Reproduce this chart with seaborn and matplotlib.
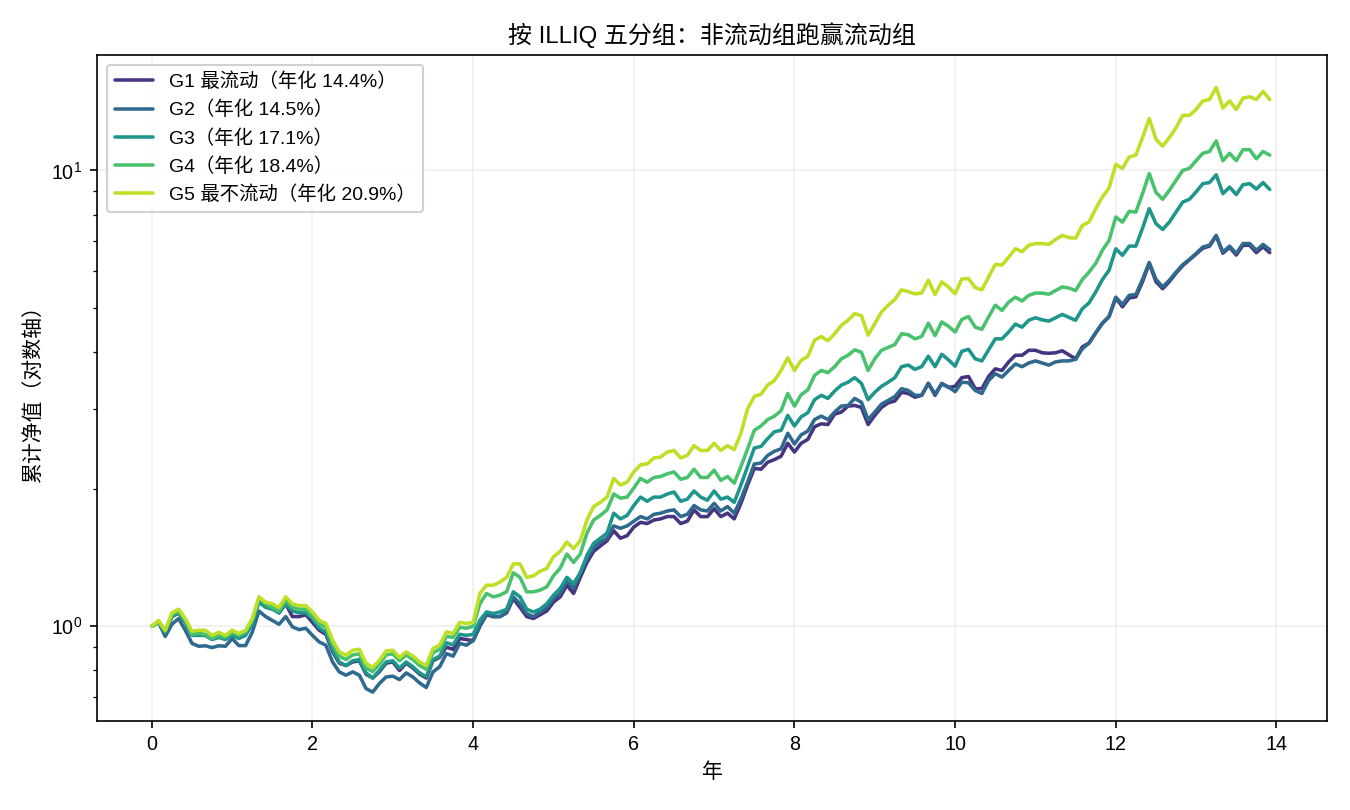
import numpy as np
import pandas as pd
import matplotlib
matplotlib.use("Agg")
import matplotlib.pyplot as plt
import seaborn as sns

# monthly cumulative NAV per ILLIQ quintile
g1 = [1.00, 1.02, 0.97, 1.05, 1.07, 1.02, 0.96, 0.96, 0.955, 0.94, 0.95, 0.94,
      0.965, 0.95, 0.96, 1.02, 1.14, 1.11, 1.10, 1.07, 1.12, 1.05, 1.05, 1.06,
      1.02, 0.98, 0.96, 0.88, 0.83, 0.82, 0.835, 0.84, 0.785, 0.77, 0.795, 0.83,
      0.835, 0.80, 0.83, 0.81, 0.785, 0.77, 0.84, 0.855, 0.90, 0.89, 0.94, 0.935,
      0.93, 1.00, 1.06, 1.05, 1.05, 1.07, 1.15, 1.10, 1.05, 1.04, 1.06, 1.08,
      1.13, 1.16, 1.23, 1.18, 1.28, 1.38, 1.46, 1.50, 1.54, 1.62, 1.56, 1.58,
      1.65, 1.69, 1.68, 1.71, 1.72, 1.74, 1.74, 1.68, 1.70, 1.80, 1.74, 1.74,
      1.81, 1.74, 1.77, 1.72, 1.86, 2.04, 2.22, 2.21, 2.29, 2.32, 2.36, 2.52,
      2.41, 2.52, 2.57, 2.74, 2.78, 2.77, 2.92, 2.95, 3.04, 3.05, 3.02, 2.77,
      2.90, 3.02, 3.09, 3.12, 3.26, 3.24, 3.18, 3.21, 3.41, 3.21, 3.41, 3.34,
      3.36, 3.51, 3.53, 3.32, 3.32, 3.53, 3.67, 3.64, 3.80, 3.93, 3.93, 4.03,
      4.03, 3.98, 3.97, 3.98, 4.02, 3.94, 3.86, 4.10, 4.18, 4.40, 4.62, 4.78,
      5.25, 5.02, 5.25, 5.28, 5.70, 6.25, 5.70, 5.50, 5.70, 5.95, 6.18, 6.36,
      6.55, 6.75, 6.82, 7.18, 6.58, 6.78, 6.52, 6.85, 6.85, 6.60, 6.80, 6.60]

g2 = [1.00, 1.02, 0.95, 1.01, 1.04, 0.98, 0.917, 0.904, 0.906, 0.898, 0.906, 0.904,
      0.94, 0.907, 0.907, 0.97, 1.08, 1.05, 1.03, 1.01, 1.05, 0.997, 0.983, 0.99,
      0.955, 0.924, 0.909, 0.835, 0.794, 0.781, 0.794, 0.781, 0.730, 0.717, 0.749, 0.774,
      0.777, 0.764, 0.79, 0.774, 0.751, 0.734, 0.794, 0.815, 0.871, 0.86, 0.917, 0.909,
      0.93, 1.00, 1.066, 1.05, 1.05, 1.075, 1.16, 1.12, 1.066, 1.05, 1.075, 1.10,
      1.15, 1.18, 1.26, 1.21, 1.31, 1.41, 1.49, 1.53, 1.56, 1.66, 1.64, 1.66,
      1.70, 1.74, 1.72, 1.76, 1.77, 1.79, 1.80, 1.74, 1.76, 1.84, 1.80, 1.79,
      1.86, 1.79, 1.83, 1.77, 1.90, 2.07, 2.27, 2.28, 2.37, 2.42, 2.45, 2.65,
      2.51, 2.63, 2.68, 2.84, 2.89, 2.84, 2.95, 3.04, 3.05, 3.16, 3.10, 2.84,
      2.95, 3.07, 3.13, 3.19, 3.32, 3.29, 3.21, 3.21, 3.41, 3.23, 3.40, 3.35,
      3.27, 3.43, 3.42, 3.29, 3.24, 3.46, 3.58, 3.52, 3.64, 3.76, 3.71, 3.78,
      3.82, 3.78, 3.74, 3.80, 3.82, 3.82, 3.85, 4.06, 4.18, 4.40, 4.62, 4.78,
      5.27, 5.08, 5.32, 5.34, 5.77, 6.28, 5.77, 5.55, 5.74, 5.98, 6.21, 6.38,
      6.57, 6.79, 6.85, 7.20, 6.62, 6.82, 6.57, 6.91, 6.91, 6.68, 6.88, 6.70]

g3 = [1.00, 1.02, 0.97, 1.05, 1.07, 1.02, 0.955, 0.955, 0.955, 0.935, 0.945, 0.935,
      0.955, 0.94, 0.955, 1.01, 1.13, 1.10, 1.09, 1.07, 1.12, 1.08, 1.07, 1.07,
      1.04, 0.99, 0.97, 0.89, 0.835, 0.82, 0.84, 0.845, 0.79, 0.77, 0.80, 0.835,
      0.84, 0.81, 0.835, 0.815, 0.79, 0.775, 0.845, 0.86, 0.92, 0.91, 0.96, 0.955,
      0.96, 1.03, 1.075, 1.066, 1.075, 1.09, 1.19, 1.16, 1.09, 1.075, 1.09, 1.12,
      1.17, 1.21, 1.28, 1.24, 1.31, 1.43, 1.52, 1.56, 1.60, 1.77, 1.72, 1.75,
      1.84, 1.92, 1.88, 1.92, 1.92, 1.95, 1.97, 1.88, 1.90, 1.98, 1.92, 1.89,
      1.98, 1.90, 1.92, 1.87, 2.04, 2.24, 2.46, 2.48, 2.58, 2.67, 2.69, 2.90,
      2.75, 2.88, 2.94, 3.14, 3.21, 3.16, 3.28, 3.38, 3.43, 3.51, 3.41, 3.14,
      3.26, 3.36, 3.43, 3.51, 3.71, 3.74, 3.66, 3.71, 3.91, 3.71, 3.95, 3.84,
      3.72, 4.01, 4.05, 3.86, 3.82, 4.04, 4.27, 4.27, 4.42, 4.60, 4.53, 4.69,
      4.75, 4.70, 4.67, 4.75, 4.83, 4.76, 4.69, 4.97, 5.12, 5.41, 5.76, 6.04,
      6.73, 6.51, 6.82, 6.82, 7.47, 8.24, 7.64, 7.42, 7.70, 8.10, 8.52, 8.64,
      8.97, 9.35, 9.40, 9.78, 8.89, 9.19, 8.85, 9.30, 9.35, 9.10, 9.40, 9.08]

g4 = [1.00, 1.02, 0.975, 1.06, 1.08, 1.03, 0.96, 0.965, 0.96, 0.94, 0.955, 0.945,
      0.97, 0.955, 0.97, 1.03, 1.15, 1.12, 1.10, 1.08, 1.14, 1.10, 1.09, 1.09,
      1.05, 1.01, 0.995, 0.915, 0.86, 0.845, 0.865, 0.87, 0.81, 0.795, 0.825, 0.865,
      0.87, 0.84, 0.865, 0.845, 0.82, 0.805, 0.875, 0.89, 0.95, 0.945, 0.995, 0.99,
      1.00, 1.12, 1.18, 1.16, 1.17, 1.19, 1.31, 1.28, 1.19, 1.19, 1.20, 1.22,
      1.29, 1.34, 1.44, 1.38, 1.44, 1.60, 1.71, 1.75, 1.80, 1.95, 1.91, 1.92,
      2.01, 2.11, 2.07, 2.12, 2.13, 2.16, 2.18, 2.10, 2.12, 2.21, 2.12, 2.12,
      2.20, 2.09, 2.13, 2.06, 2.24, 2.45, 2.69, 2.75, 2.84, 2.89, 2.97, 3.24,
      3.04, 3.22, 3.30, 3.55, 3.64, 3.60, 3.71, 3.86, 3.93, 4.04, 3.99, 3.64,
      3.86, 4.03, 4.09, 4.15, 4.38, 4.36, 4.27, 4.32, 4.62, 4.34, 4.65, 4.55,
      4.42, 4.71, 4.78, 4.53, 4.48, 4.77, 5.06, 4.93, 5.14, 5.27, 5.17, 5.32,
      5.38, 5.38, 5.35, 5.45, 5.55, 5.52, 5.45, 5.76, 5.98, 6.25, 6.68, 7.02,
      7.90, 7.70, 8.13, 8.10, 8.89, 9.84, 8.95, 8.64, 9.04, 9.51, 10.0, 10.1,
      10.5, 10.9, 11.0, 11.6, 10.5, 10.9, 10.5, 11.1, 11.1, 10.6, 11.0, 10.8]

g5 = [1.00, 1.03, 0.98, 1.07, 1.09, 1.04, 0.975, 0.98, 0.98, 0.955, 0.97, 0.955,
      0.98, 0.964, 0.98, 1.04, 1.16, 1.13, 1.12, 1.10, 1.16, 1.12, 1.11, 1.11,
      1.075, 1.03, 1.014, 0.932, 0.879, 0.864, 0.886, 0.89, 0.829, 0.812, 0.842, 0.883,
      0.886, 0.854, 0.879, 0.86, 0.835, 0.82, 0.894, 0.909, 0.972, 0.964, 1.02, 1.014,
      1.02, 1.18, 1.23, 1.23, 1.25, 1.28, 1.37, 1.37, 1.28, 1.29, 1.32, 1.34,
      1.42, 1.46, 1.53, 1.48, 1.54, 1.71, 1.83, 1.87, 1.92, 2.11, 2.04, 2.07,
      2.18, 2.26, 2.27, 2.34, 2.35, 2.41, 2.43, 2.34, 2.37, 2.49, 2.43, 2.43,
      2.52, 2.43, 2.49, 2.44, 2.65, 3.00, 3.19, 3.23, 3.38, 3.46, 3.64, 3.88,
      3.64, 3.83, 3.91, 4.24, 4.32, 4.23, 4.38, 4.57, 4.69, 4.85, 4.80, 4.35,
      4.61, 4.89, 5.06, 5.21, 5.47, 5.42, 5.36, 5.38, 5.74, 5.34, 5.69, 5.55,
      5.36, 5.78, 5.79, 5.53, 5.47, 5.83, 6.22, 6.20, 6.45, 6.73, 6.63, 6.85,
      6.91, 6.91, 6.88, 7.05, 7.20, 7.12, 7.10, 7.57, 7.70, 8.24, 8.74, 9.15,
      10.3, 10.1, 10.7, 10.8, 11.8, 13.0, 11.7, 11.3, 11.8, 12.4, 13.2, 13.2,
      13.6, 14.2, 14.3, 15.2, 13.7, 14.2, 13.6, 14.4, 14.5, 14.3, 14.9, 14.3]

labels = ["G1 最流动（年化 14.4%）", "G2（年化 14.5%）", "G3（年化 17.1%）",
          "G4（年化 18.4%）", "G5 最不流动（年化 20.9%）"]
series = [g1, g2, g3, g4, g5]

years = np.arange(len(g1)) / 12

rows = []
for lab, vals in zip(labels, series):
    rows.append(pd.DataFrame({"年": years, "净值": vals, "组": lab}))
df = pd.concat(rows, ignore_index=True)

# viridis, skipping the darkest end
colors = [plt.cm.viridis(v) for v in np.linspace(0.15, 0.9, 5)]

sns.set_style("ticks", {"axes.edgecolor": "black", "text.color": "black",
                        "axes.labelcolor": "black", "xtick.color": "black",
                        "ytick.color": "black"})
plt.rcParams["font.family"] = ["Liberation Sans", "Noto Sans CJK SC", "DejaVu Sans"]
plt.rcParams["axes.unicode_minus"] = False

fig, ax = plt.subplots(figsize=(9, 5.4), dpi=150)
sns.lineplot(data=df, x="年", y="净值", hue="组", hue_order=labels,
             palette=colors, linewidth=1.7, ax=ax)

ax.set_yscale("log")
ax.set_ylim(0.62, 17.9)
ax.set_xlim(-0.68, 14.63)
ax.set_xticks(range(0, 15, 2))
ax.grid(True, which="major", alpha=0.3)
ax.set_title("按 ILLIQ 五分组：非流动组跑赢流动组", fontsize=11.5)
ax.set_xlabel("年", fontsize=10)
ax.set_ylabel("累计净值（对数轴）", fontsize=10)
ax.tick_params(labelsize=9.5)
ax.legend(loc="upper left", fontsize=9.3, title=None, framealpha=0.9)

fig.subplots_adjust(left=0.072, right=0.983, top=0.932, bottom=0.11)
fig.savefig("out.png", dpi=150)
